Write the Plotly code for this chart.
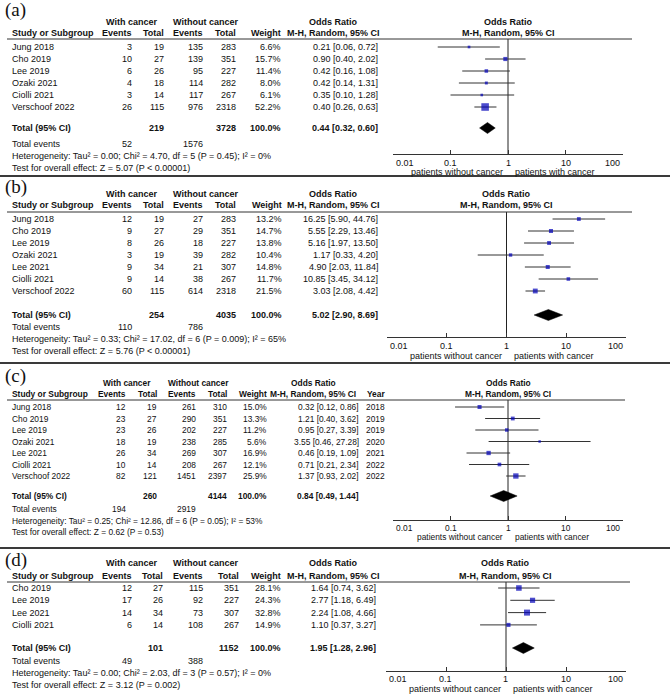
import math
import plotly.graph_objects as go

W, H = 670, 699

# ---------------- data ----------------
# (a)
a_studies = ["Jung 2018", "Cho 2019", "Lee 2019", "Ozaki 2021", "Ciolli 2021", "Verschoof 2022"]
a_ev_ca = [3, 10, 6, 4, 3, 26]
a_tot_ca = [19, 27, 26, 18, 14, 115]
a_ev_nc = [135, 139, 95, 114, 117, 976]
a_tot_nc = [283, 351, 227, 282, 267, 2318]
a_weight = [6.6, 15.7, 11.4, 8.0, 6.1, 52.2]
a_or = [0.21, 0.90, 0.42, 0.42, 0.35, 0.40]
a_lo = [0.06, 0.40, 0.16, 0.14, 0.10, 0.26]
a_hi = [0.72, 2.02, 1.08, 1.31, 1.28, 0.63]
a_total = [219, 3728, 0.44, 0.32, 0.60]
a_events = [52, 1576]
a_het = ["0.00", "4.70", 5, "0.45", 0]
a_test = ["5.07", "< 0.00001"]

# (b)
b_studies = ["Jung 2018", "Cho 2019", "Lee 2019", "Ozaki 2021", "Lee 2021", "Ciolli 2021", "Verschoof 2022"]
b_ev_ca = [12, 9, 8, 3, 9, 9, 60]
b_tot_ca = [19, 27, 26, 19, 34, 14, 115]
b_ev_nc = [27, 29, 18, 39, 21, 38, 614]
b_tot_nc = [283, 351, 227, 282, 307, 267, 2318]
b_weight = [13.2, 14.7, 13.8, 10.4, 14.8, 11.7, 21.5]
b_or = [16.25, 5.55, 5.16, 1.17, 4.90, 10.85, 3.03]
b_lo = [5.90, 2.29, 1.97, 0.33, 2.03, 3.45, 2.08]
b_hi = [44.76, 13.46, 13.50, 4.20, 11.84, 34.12, 4.42]
b_total = [254, 4035, 5.02, 2.90, 8.69]
b_events = [110, 786]
b_het = ["0.33", "17.02", 6, "0.009", 65]
b_test = ["5.76", "< 0.00001"]

# (c)
c_studies = ["Jung 2018", "Cho 2019", "Lee 2019", "Ozaki 2021", "Lee 2021", "Ciolli 2021", "Verschoof 2022"]
c_ev_ca = [12, 23, 23, 18, 26, 10, 82]
c_tot_ca = [19, 27, 26, 19, 34, 14, 121]
c_ev_nc = [261, 290, 202, 238, 269, 208, 1451]
c_tot_nc = [310, 351, 227, 285, 307, 267, 2397]
c_weight = [15.0, 13.3, 11.2, 5.6, 16.9, 12.1, 25.9]
c_or = [0.32, 1.21, 0.95, 3.55, 0.46, 0.71, 1.37]
c_lo = [0.12, 0.40, 0.27, 0.46, 0.19, 0.21, 0.93]
c_hi = [0.86, 3.62, 3.39, 27.28, 1.09, 2.34, 2.02]
c_year = [2018, 2019, 2019, 2020, 2021, 2022, 2022]
c_total = [260, 4144, 0.84, 0.49, 1.44]
c_events = [194, 2919]
c_het = ["0.25", "12.86", 6, "0.05", 53]
c_test = ["0.62", "= 0.53"]

# (d)
d_studies = ["Cho 2019", "Lee 2019", "Lee 2021", "Ciolli 2021"]
d_ev_ca = [12, 17, 14, 6]
d_tot_ca = [27, 26, 34, 14]
d_ev_nc = [115, 92, 73, 108]
d_tot_nc = [351, 227, 307, 267]
d_weight = [28.1, 24.3, 32.8, 14.9]
d_or = [1.64, 2.77, 2.24, 1.10]
d_lo = [0.74, 1.18, 1.08, 0.37]
d_hi = [3.62, 6.49, 4.66, 3.27]
d_total = [101, 1152, 1.95, 1.28, 2.96]
d_events = [49, 388]
d_het = ["0.00", "2.03", 3, "0.57", 0]
d_test = ["3.12", "= 0.002"]

tick_vals = [0.01, 0.1, 1, 10, 100]
tick_text = ["0.01", "0.1", "1", "10", "100"]

# ---------------- layout of panels (pixel positions) ----------------
panels = [
    dict(label="(a)", studies=a_studies, ev_ca=a_ev_ca, tot_ca=a_tot_ca, ev_nc=a_ev_nc, tot_nc=a_tot_nc,
         weight=a_weight, orv=a_or, lo=a_lo, hi=a_hi, total=a_total, events=a_events, het=a_het, test=a_test,
         year=None,
         L=dict(fs=9, lab=10, h1=22, h2=33, hline=39, row0=47, dy=12, tot=128, tev=144, het=156, test=168,
                axis=154, tlab=163, pat=172, hl_end=632,
                c_ev1=133, c_tot1=165, c_ev2=204, c_tot2=237, c_w=282, c_or=379, c_year=None,
                c_with=131, c_without=205, c_orh=333, f0=393, f1=623)),
    dict(label="(b)", studies=b_studies, ev_ca=b_ev_ca, tot_ca=b_tot_ca, ev_nc=b_ev_nc, tot_nc=b_tot_nc,
         weight=b_weight, orv=b_or, lo=b_lo, hi=b_hi, total=b_total, events=b_events, het=b_het, test=b_test,
         year=None,
         L=dict(fs=9, lab=187, h1=194, h2=205, hline=212, row0=219, dy=12, tot=315, tev=327, het=339, test=351,
                axis=337, tlab=346, pat=356, hl_end=632,
                c_ev1=133, c_tot1=165, c_ev2=204, c_tot2=237, c_w=283, c_or=379, c_year=None,
                c_with=131, c_without=205, c_orh=333, f0=387, f1=626)),
    dict(label="(c)", studies=c_studies, ev_ca=c_ev_ca, tot_ca=c_tot_ca, ev_nc=c_ev_nc, tot_nc=c_tot_nc,
         weight=c_weight, orv=c_or, lo=c_lo, hi=c_hi, total=c_total, events=c_events, het=c_het, test=c_test,
         year=c_year,
         L=dict(fs=8.4, lab=376, h1=383, h2=394, hline=400, row0=407, dy=11.5, tot=496, tev=509, het=521, test=532,
                axis=520, tlab=528, pat=537, hl_end=625,
                c_ev1=127, c_tot1=158, c_ev2=197, c_tot2=228, c_w=268, c_or=360, c_year=386,
                c_with=127, c_without=198, c_orh=313, f0=393, f1=623)),
    dict(label="(d)", studies=d_studies, ev_ca=d_ev_ca, tot_ca=d_tot_ca, ev_nc=d_ev_nc, tot_nc=d_tot_nc,
         weight=d_weight, orv=d_or, lo=d_lo, hi=d_hi, total=d_total, events=d_events, het=d_het, test=d_test,
         year=None,
         L=dict(fs=9, lab=560, h1=563, h2=576, hline=582, row0=588, dy=12.3, tot=648, tev=661, het=673, test=685,
                axis=671, tlab=679, pat=689, hl_end=630,
                c_ev1=133, c_tot1=164, c_ev2=204, c_tot2=240, c_w=282, c_or=377, c_year=None,
                c_with=131, c_without=205, c_orh=333, f0=386, f1=626)),
]
separators = [176, 363, 548]

FONT = "Arial, Liberation Sans, sans-serif"
SERIF = "Times New Roman, Liberation Serif, serif"
TXT = "#111111"
NAME_X = 11

fig = go.Figure()
annotations = []
shapes = []


def px(x):
    return x / W


def txt(x, y, s, anchor="left", bold=False, size=9, family=FONT, xref="paper", xshift=0):
    annotations.append(dict(
        x=px(x) if xref == "paper" else x, y=y, xref=xref, yref="y",
        text=f"<b>{s}</b>" if bold else s, showarrow=False,
        xanchor=anchor, yanchor="middle", xshift=xshift, borderpad=0,
        font=dict(family=family, size=size, color=TXT)))


layout_axes = {}
for k, P in enumerate(panels):
    L = P["L"]
    fs = L["fs"]
    xa = "x%d" % (k + 2)
    xname = "xaxis%d" % (k + 2)
    n = len(P["studies"])
    rows = [L["row0"] + i * L["dy"] for i in range(n)]

    # panel label
    txt(4, L["lab"], P["label"], size=19, family=SERIF)

    # headers
    txt(L["c_with"], L["h1"], "With cancer", anchor="center", bold=True, size=fs)
    txt(L["c_without"], L["h1"], "Without cancer", anchor="center", bold=True, size=fs)
    txt(L["c_orh"], L["h1"], "Odds Ratio", anchor="center", bold=True, size=fs)
    txt(NAME_X, L["h2"], "Study or Subgroup", bold=True, size=fs)
    txt(L["c_ev1"], L["h2"], "Events", anchor="right", bold=True, size=fs)
    txt(L["c_tot1"], L["h2"], "Total", anchor="right", bold=True, size=fs)
    txt(L["c_ev2"], L["h2"], "Events", anchor="right", bold=True, size=fs)
    txt(L["c_tot2"], L["h2"], "Total", anchor="right", bold=True, size=fs)
    txt(L["c_w"], L["h2"], "Weight", anchor="right", bold=True, size=fs)
    txt(L["c_orh"], L["h2"], "M-H, Random, 95% CI", anchor="center", bold=True, size=fs)
    if P["year"] is not None:
        txt(L["c_year"], L["h2"], "Year", anchor="right", bold=True, size=fs)

    # header line
    shapes.append(dict(type="line", xref="paper", yref="y", x0=px(7), x1=px(L["hl_end"]),
                       y0=L["hline"], y1=L["hline"], line=dict(color="#333333", width=1)))

    # study rows
    for i in range(n):
        y = rows[i]
        txt(NAME_X, y, P["studies"][i], size=fs)
        txt(L["c_ev1"], y, str(P["ev_ca"][i]), anchor="right", size=fs)
        txt(L["c_tot1"], y, str(P["tot_ca"][i]), anchor="right", size=fs)
        txt(L["c_ev2"], y, str(P["ev_nc"][i]), anchor="right", size=fs)
        txt(L["c_tot2"], y, str(P["tot_nc"][i]), anchor="right", size=fs)
        txt(L["c_w"], y, "%.1f%%" % P["weight"][i], anchor="right", size=fs)
        txt(L["c_or"], y, "%.2f [%.2f, %.2f]" % (P["orv"][i], P["lo"][i], P["hi"][i]), anchor="right", size=fs)
        if P["year"] is not None:
            txt(L["c_year"], y, str(P["year"][i]), anchor="right", size=fs)

    # total rows
    t = P["total"]
    txt(NAME_X, L["tot"], "Total (95% CI)", bold=True, size=fs)
    txt(L["c_tot1"], L["tot"], str(t[0]), anchor="right", bold=True, size=fs)
    txt(L["c_tot2"], L["tot"], str(t[1]), anchor="right", bold=True, size=fs)
    txt(L["c_w"], L["tot"], "100.0%", anchor="right", bold=True, size=fs)
    txt(L["c_or"], L["tot"], "%.2f [%.2f, %.2f]" % (t[2], t[3], t[4]), anchor="right", bold=True, size=fs)
    txt(NAME_X, L["tev"], "Total events", size=fs)
    txt(L["c_ev1"], L["tev"], str(P["events"][0]), anchor="right", size=fs)
    txt(L["c_ev2"], L["tev"], str(P["events"][1]), anchor="right", size=fs)
    h = P["het"]
    txt(NAME_X, L["het"], "Heterogeneity: Tau² = %s; Chi² = %s, df = %d (P = %s); I² = %d%%" % (h[0], h[1], h[2], h[3], h[4]), size=fs)
    txt(NAME_X, L["test"], "Test for overall effect: Z = %s (P %s)" % (P["test"][0], P["test"][1]), size=fs)

    # forest header, centred over OR = 1
    annotations.append(dict(x=0, y=L["h1"], xref=xa, yref="y", text="<b>Odds Ratio</b>", showarrow=False,
                            xanchor="center", yanchor="middle", font=dict(family=FONT, size=fs, color=TXT)))
    annotations.append(dict(x=0, y=L["h2"], xref=xa, yref="y", text="<b>M-H, Random, 95% CI</b>", showarrow=False,
                            xanchor="center", yanchor="middle", font=dict(family=FONT, size=fs, color=TXT)))

    # vertical line at OR = 1
    fig.add_trace(go.Scatter(x=[1, 1], y=[L["hline"], L["axis"]], mode="lines",
                             line=dict(color="#222222", width=1), xaxis=xa, yaxis="y",
                             hoverinfo="skip", showlegend=False))
    # CI lines
    cx, cy = [], []
    for i in range(n):
        cx += [P["lo"][i], P["hi"][i], None]
        cy += [rows[i], rows[i], None]
    fig.add_trace(go.Scatter(x=cx, y=cy, mode="lines", line=dict(color="#333333", width=1),
                             xaxis=xa, yaxis="y", hoverinfo="skip", showlegend=False))
    # squares (area proportional to weight)
    sizes = [max(2.2, 1.05 * math.sqrt(w)) for w in P["weight"]]
    fig.add_trace(go.Scatter(x=P["orv"], y=rows, mode="markers",
                             marker=dict(symbol="square", size=sizes, color="#0000b8", line=dict(width=0)),
                             xaxis=xa, yaxis="y", showlegend=False))
    # pooled diamond
    yt = L["tot"]
    fig.add_trace(go.Scatter(x=[t[3], t[2], t[4], t[2], t[3]], y=[yt, yt - 5.5, yt, yt + 5.5, yt],
                             mode="lines", fill="toself", fillcolor="#000000",
                             line=dict(color="#000000", width=0.5),
                             xaxis=xa, yaxis="y", hoverinfo="skip", showlegend=False))

    # tick labels (end labels pulled inward)
    for v, s in zip(tick_vals, tick_text):
        anc = "left" if v == tick_vals[0] else ("right" if v == tick_vals[-1] else "center")
        annotations.append(dict(x=math.log10(v), y=L["tlab"], xref=xa, yref="y", text=s, showarrow=False,
                                xanchor=anc, yanchor="middle",
                                xshift=(1 if anc == "left" else (-1 if anc == "right" else 0)),
                                font=dict(family=FONT, size=fs, color=TXT)))
    annotations.append(dict(x=0, y=L["pat"], xref=xa, yref="y", text="patients without cancer", showarrow=False,
                            xanchor="right", yanchor="middle", xshift=-3, font=dict(family=FONT, size=fs, color=TXT)))
    annotations.append(dict(x=0, y=L["pat"], xref=xa, yref="y", text="patients with cancer", showarrow=False,
                            xanchor="left", yanchor="middle", xshift=5, font=dict(family=FONT, size=fs, color=TXT)))

    layout_axes[xname] = dict(type="log", range=[-2, 2], domain=[px(L["f0"]), px(L["f1"])],
                              anchor="free", position=1 - L["axis"] / H,
                              showline=True, linecolor="#333333", linewidth=1,
                              ticks="inside", ticklen=4, tickwidth=1, tickcolor="#333333",
                              tickvals=tick_vals, showticklabels=False,
                              showgrid=False, zeroline=False, fixedrange=True)

for s in separators:
    shapes.append(dict(type="line", xref="paper", yref="y", x0=0, x1=1, y0=s, y1=s,
                       line=dict(color="#3a3a3a", width=2)))

fig.update_layout(
    width=W, height=H,
    margin=dict(l=0, r=0, t=0, b=0),
    paper_bgcolor="white", plot_bgcolor="rgba(0,0,0,0)",
    showlegend=False,
    xaxis=dict(range=[0, W], domain=[0, 1], visible=False, fixedrange=True),
    yaxis=dict(range=[H, 0], domain=[0, 1], visible=False, fixedrange=True),
    annotations=annotations, shapes=shapes,
    **layout_axes,
)

fig.write_html("out.html",
               config={"displayModeBar": False},
               post_script="document.body.style.margin='0px';document.body.style.padding='0px';"
                           "document.body.style.overflow='hidden';")
